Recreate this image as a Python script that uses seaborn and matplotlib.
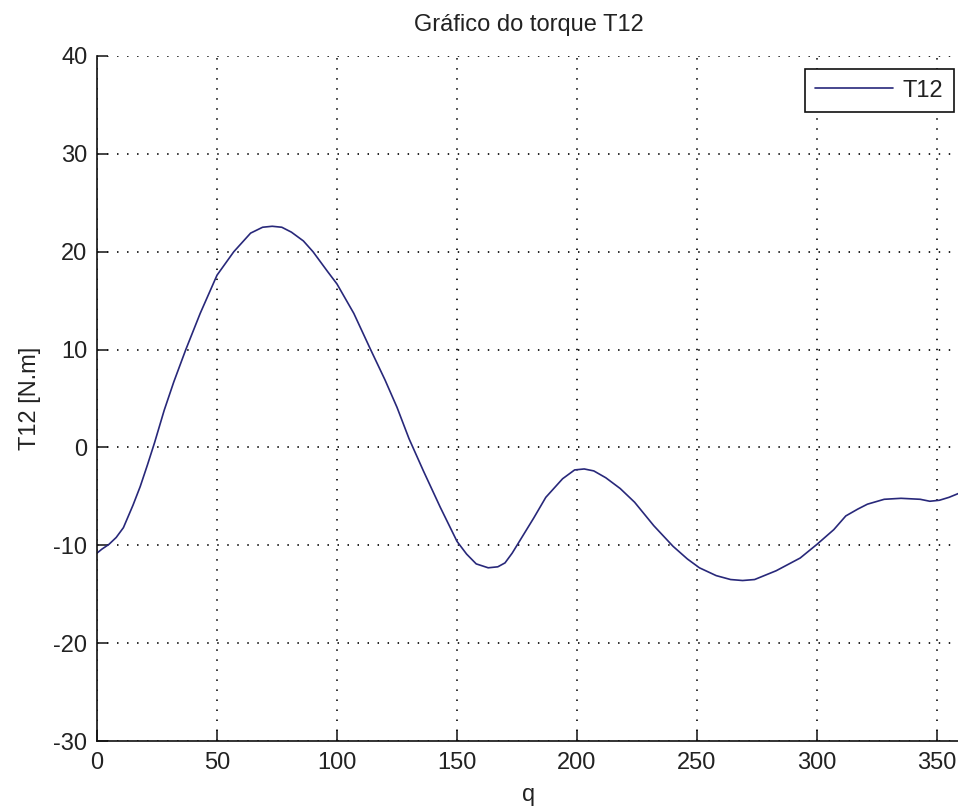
import matplotlib
matplotlib.use("Agg")
import matplotlib.pyplot as plt
import seaborn as sns
import pandas as pd

# Crank angle q (degrees) and torque T12 (N.m)
q = [0, 2, 5, 8, 11, 15, 18, 21, 24, 28, 32, 37, 43, 50, 57, 64, 69, 73, 77,
     81, 86, 90, 96, 100, 107, 114, 120, 125, 130, 136, 143, 150, 154, 158,
     163, 167, 170, 173, 176, 182, 187, 194, 199, 203, 207, 212, 218, 224,
     232, 240, 246, 251, 258, 264, 269, 274, 283, 293, 300, 307, 312, 317,
     321, 328, 335, 343, 347, 351, 355, 360]
t12 = [-10.8, -10.4, -9.9, -9.2, -8.2, -5.9, -4.0, -1.8, 0.5, 3.8, 6.7, 10.0,
       13.7, 17.6, 20.0, 21.9, 22.5, 22.6, 22.5, 22.0, 21.1, 20.0, 18.0, 16.7,
       13.7, 10.0, 6.9, 4.1, 0.9, -2.4, -6.1, -9.6, -10.9, -11.9, -12.3,
       -12.2, -11.8, -10.8, -9.6, -7.2, -5.1, -3.2, -2.3, -2.2, -2.4, -3.1,
       -4.2, -5.6, -8.0, -10.1, -11.4, -12.3, -13.1, -13.5, -13.6, -13.5,
       -12.6, -11.3, -9.9, -8.4, -7.0, -6.3, -5.8, -5.3, -5.2, -5.3, -5.5,
       -5.4, -5.1, -4.6]

x_ticks = [0, 50, 100, 150, 200, 250, 300, 350]
y_ticks = [-30, -20, -10, 0, 10, 20, 30, 40]

title = "Gráfico do torque T12"
x_label = "q"
y_label = "T12 [N.m]"
series_name = "T12"

sns.set_theme(style="white")
plt.rcParams["font.family"] = ["Liberation Sans", "DejaVu Sans"]
plt.rcParams["axes.unicode_minus"] = False

df = pd.DataFrame({"q": q, "T12": t12})

fig = plt.figure(figsize=(9.58, 8.11), dpi=100)
fig.patch.set_facecolor("white")
# axes run a little past the right edge of the canvas
ax = fig.add_axes([97 / 958, 1 - 741 / 811, (961 - 97) / 958, (741 - 56) / 811])
ax.set_facecolor("white")

sns.lineplot(data=df, x="q", y="T12", ax=ax, color="#28287a", linewidth=1.2,
             label=series_name, sort=False, estimator=None)

ax.set_xlim(0, 360)
ax.set_ylim(-30, 40)
ax.set_xticks(x_ticks)
ax.set_yticks(y_ticks)

ax.grid(True, color="#111111", linestyle=(0, (0.8, 4.75)), linewidth=1.3)

for side in ("top", "right"):
    ax.spines[side].set_visible(False)
for side in ("left", "bottom"):
    ax.spines[side].set_color("#111111")
    ax.spines[side].set_linewidth(1.2)

ax.tick_params(axis="both", direction="in", length=8, width=1.1,
               colors="#111111", labelsize=17, labelcolor="#222222",
               left=True, bottom=True)
ax.tick_params(axis="y", pad=7)
ax.tick_params(axis="x", pad=8)

ax.set_title(title, fontsize=17, color="#222222", pad=18)
ax.set_xlabel(x_label, fontsize=17, color="#222222", labelpad=7)
ax.set_ylabel(y_label, fontsize=17, color="#222222", labelpad=9)

leg = ax.legend(loc="upper right", bbox_to_anchor=(954 / 958, 1 - 69 / 811),
                bbox_transform=fig.transFigure, borderaxespad=0,
                fontsize=17, handlelength=3.3, handletextpad=0.4,
                borderpad=0.45, fancybox=False, framealpha=1)
leg.get_frame().set_edgecolor("#111111")
leg.get_frame().set_linewidth(1.2)
for txt in leg.get_texts():
    txt.set_color("#222222")

fig.savefig("out.png", dpi=100, facecolor="white")
